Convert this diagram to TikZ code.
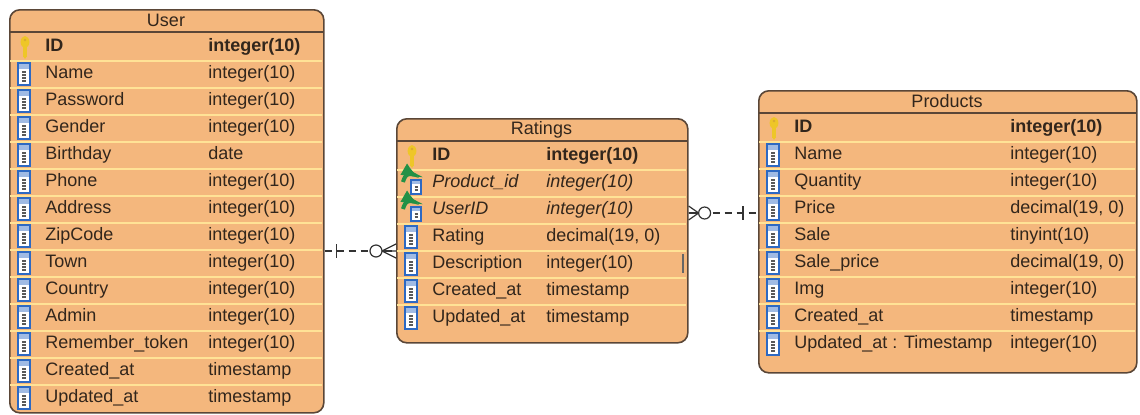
\documentclass[tikz,border=0pt]{standalone}
\usepackage{fontspec}
\setmainfont{Liberation Sans}
\usetikzlibrary{positioning}
\definecolor{entfill}{RGB}{244,183,125}
\definecolor{entline}{RGB}{90,70,55}
\definecolor{rowline}{RGB}{255,226,150}
\definecolor{txt}{RGB}{50,38,28}
\definecolor{colblue}{RGB}{45,105,195}
\definecolor{keyyel}{RGB}{238,198,40}
\definecolor{fkgreen}{RGB}{35,145,70}
\tikzset{
  entity/.style={draw=entline,fill=entfill,line width=0.8pt,rounded corners=5pt,inner sep=0pt,anchor=north west},
  title/.style={text=txt,inner sep=0pt},
  field/.style={text=txt,inner sep=0pt,anchor=west,text height=6.6pt,text depth=1.9pt},
  rowsep/.style={draw=rowline,line width=0.8pt},
  hdsep/.style={draw=entline,line width=0.8pt},
  rel/.style={draw=black!80,line width=0.6pt},
  colicon/.pic={
    \draw[colblue,fill=white,line width=0.9pt](-6,-11)rectangle(6,11);
    \fill[colblue!45](-5,-10)rectangle(5,-5);
    \foreach \yy in {-2,1,4,7}{\draw[black!65,line width=0.7pt](-2,\yy)--(2,\yy);}
  },
  keyicon/.pic={
    \fill[keyyel](0,-5)ellipse(2.2pt and 3pt);
    \fill[keyyel](-2,-1)rectangle(2,10);
    \fill[keyyel](0,12)--(-2,9)--(2,9)--cycle;
    \fill[keyyel!60!brown](0,-7)circle(0.7pt);
  },
  fkicon/.pic={
    \draw[colblue,fill=white,line width=0.8pt](-5,-3)rectangle(5,11);
    \fill[colblue!45](-4,-2)rectangle(4,1);
    \foreach \yy in {4,7}{\draw[black!65,line width=0.6pt](-1.5,\yy)--(1.5,\yy);}
    \draw[fkgreen,line width=2pt,-latex](-13,-1)to[out=75,in=180](-6,-9)to[out=0,in=150](3,-5);
  }
}
\begin{document}
\begin{tikzpicture}[x=0.5pt,y=-0.5pt,font=\fontsize{9}{11}\selectfont]
\useasboundingbox(0,0)rectangle(1140,414);
% User
\begin{scope}[shift={(9,9)}]
\node[entity,minimum width=157pt,minimum height=201.5pt](user)at(0,0){};
\node[title](user-h)at(157,11.5){User};
\draw[hdsep](0,23)--(314,23);
\pic at(16,38){keyicon};
\node[field](user-n0)at(36,38){\bfseries ID};
\node[field](user-t0)at(199,38){\bfseries integer(10)};
\foreach \n/\t[count=\k] in {Name/integer(10),Password/integer(10),Gender/integer(10),Birthday/date,Phone/integer(10),Address/integer(10),ZipCode/integer(10),Town/integer(10),Country/integer(10),Admin/integer(10),Remember\_token/integer(10),Created\_at/timestamp,Updated\_at/timestamp}{
  \draw[rowsep](1,25+27*\k)--(313,25+27*\k);
  \pic at(15,38+27*\k){colicon};
  \node[field](user-n\k)at(36,38+27*\k){\n};
  \node[field](user-t\k)at(199,38+27*\k){\t};
}
\end{scope}
% Ratings
\begin{scope}[shift={(396,118)}]
\node[entity,minimum width=145.5pt,minimum height=112pt](ratings)at(0,0){};
\node[title](rat-h)at(145.5,11.5){Ratings};
\draw[hdsep](0,23)--(291,23);
\pic at(16,38){keyicon};
\node[field](rat-n0)at(36,38){\bfseries ID};
\node[field](rat-t0)at(150,38){\bfseries integer(10)};
\foreach \n/\t[count=\k] in {Product\_id/integer(10),UserID/integer(10)}{
  \draw[rowsep](1,25+27*\k)--(290,25+27*\k);
  \pic at(20,38+27*\k){fkicon};
  \node[field](rat-n\k)at(36,38+27*\k){\itshape\n};
  \node[field](rat-t\k)at(150,38+27*\k){\itshape\t};
}
\foreach \n/\t[count=\k from 3] in {Rating/{decimal(19, 0)},Description/integer(10),Created\_at/timestamp,Updated\_at/timestamp}{
  \draw[rowsep](1,25+27*\k)--(290,25+27*\k);
  \pic at(15,38+27*\k){colicon};
  \node[field](rat-n\k)at(36,38+27*\k){\n};
  \node[field](rat-t\k)at(150,38+27*\k){\t};
}
\draw[black!60,line width=1pt](287,136)--(287,155);
\end{scope}
% Products
\begin{scope}[shift={(758,90)}]
\node[entity,minimum width=189pt,minimum height=141pt](products)at(0,0){};
\node[title](prod-h)at(189,11.5){Products};
\draw[hdsep](0,23)--(378,23);
\pic at(16,38){keyicon};
\node[field](prod-n0)at(36,38){\bfseries ID};
\node[field](prod-t0)at(252,38){\bfseries integer(10)};
\foreach \n/\t[count=\k] in {Name/integer(10),Quantity/integer(10),Price/{decimal(19, 0)},Sale/tinyint(10),Sale\_price/{decimal(19, 0)},Img/integer(10),Created\_at/timestamp,Updated\_at : Timestamp/integer(10)}{
  \draw[rowsep](1,25+27*\k)--(377,25+27*\k);
  \pic at(15,38+27*\k){colicon};
  \node[field](prod-n\k)at(36,38+27*\k){\n};
  \node[field](prod-t\k)at(252,38+27*\k){\t};
}
\end{scope}
% User -- Ratings
\coordinate(ur-a)at(user.east|-0,251);
\coordinate(ur-b)at(ratings.west|-0,251);
\draw[rel,dash pattern=on 3.5pt off 2.5pt](ur-a)--(ur-b);
\draw[rel]([xshift=6pt]ur-a)++(0,-7)--++(0,14);
\draw[rel]([xshift=-7pt]ur-b)--([yshift=3.5pt]ur-b) ([xshift=-7pt]ur-b)--(ur-b) ([xshift=-7pt]ur-b)--([yshift=-3.5pt]ur-b);
\draw[rel,fill=white]([xshift=-10pt]ur-b)circle(3pt);
% Ratings -- Products
\coordinate(rp-a)at(ratings.east|-0,213);
\coordinate(rp-b)at(products.west|-0,213);
\draw[rel,dash pattern=on 3.5pt off 2.5pt](rp-a)--(rp-b);
\draw[rel]([xshift=-7.5pt]rp-b)++(0,-7)--++(0,14);
\draw[rel]([xshift=5pt]rp-a)--([yshift=3.5pt]rp-a) ([xshift=5pt]rp-a)--(rp-a) ([xshift=5pt]rp-a)--([yshift=-3.5pt]rp-a);
\draw[rel,fill=white]([xshift=8pt]rp-a)circle(3pt);
\end{tikzpicture}
\end{document}
